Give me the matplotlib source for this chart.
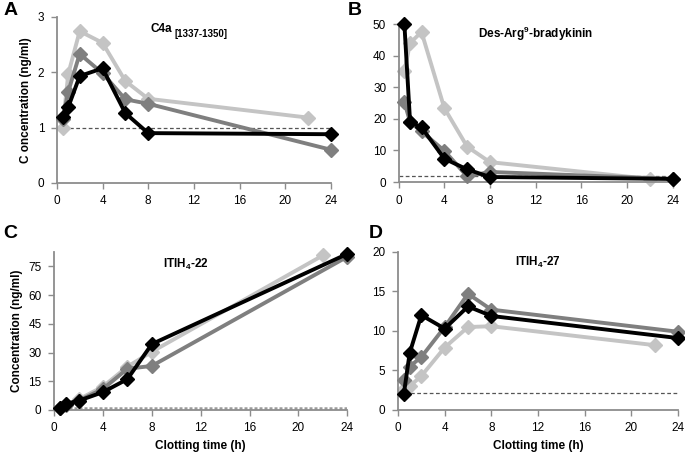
import matplotlib
matplotlib.use("Agg")
import matplotlib.pyplot as plt

plt.rcParams["font.family"] = ["Liberation Sans", "DejaVu Sans"]
plt.rcParams["mathtext.fontset"] = "custom"
plt.rcParams["mathtext.rm"] = "Liberation Sans:bold"
plt.rcParams["mathtext.bf"] = "Liberation Sans:bold"
plt.rcParams["mathtext.it"] = "Liberation Sans:bold"

# clotting times (h); the light series ends at 22 h, the others at 24 h
t_light = [0.5, 1, 2, 4, 6, 8, 22]
t_other = [0.5, 1, 2, 4, 6, 8, 24]

# A: C4a [1337-1350]
a_light = [1.0, 1.97, 2.74, 2.53, 1.84, 1.52, 1.18]
a_dark  = [1.15, 1.65, 2.33, 1.98, 1.51, 1.43, 0.6]
a_black = [1.19, 1.37, 1.93, 2.07, 1.26, 0.9, 0.88]
a_ref = 1.0

# B: Des-Arg9-bradykinin
b_light = [35, 44, 47.5, 23.4, 11.2, 6.3, 1.0]
b_dark  = [25.3, 19, 16, 9.9, 1.8, 3.2, 1.0]
b_black = [50, 19, 17.3, 7.4, 4.0, 1.6, 1.0]
b_ref = 2.0

# C: ITIH4-22
c_light = [1.0, 3.0, 5.5, 12.2, 22.6, 30.4, 80.7]
c_dark  = [0.8, 2.5, 4.8, 11.0, 21.5, 23.0, 80.0]
c_black = [1.0, 3.2, 4.8, 9.3, 16.1, 34.4, 81.5]
c_ref = 0.8

# D: ITIH4-27
d_light = [2.7, 3.0, 4.3, 7.9, 10.5, 10.6, 8.2]
d_dark  = [3.8, 5.5, 6.7, 10.5, 14.7, 12.7, 9.9]
d_black = [2.0, 7.2, 12.0, 10.3, 13.1, 11.9, 9.1]
d_ref = 2.2

xticks = [0, 4, 8, 12, 16, 20, 24]

fig = plt.figure(figsize=(6.85, 4.54), dpi=100)
ax_a = fig.add_axes([0.083, 0.597, 0.400, 0.366])
ax_b = fig.add_axes([0.582, 0.599, 0.400, 0.348])
ax_c = fig.add_axes([0.079, 0.097, 0.428, 0.348])
ax_d = fig.add_axes([0.581, 0.097, 0.409, 0.348])

panels = [
  (ax_a, a_light, a_dark, a_black, a_ref, (0, 3), [0, 1, 2, 3],
   "C4a", 0.34, 0.96, "left"),
  (ax_b, b_light, b_dark, b_black, b_ref, (0, 50), [0, 10, 20, 30, 40, 50],
   r"Des-Arg$^{\mathbf{9}}$-bradykinin", 0.5, 0.995, "center"),
  (ax_c, c_light, c_dark, c_black, c_ref, (0, 82.5), [0, 15, 30, 45, 60, 75],
   r"ITIH$_{\mathbf{4}}$-22", 0.45, 0.97, "center"),
  (ax_d, d_light, d_dark, d_black, d_ref, (0, 20), [0, 5, 10, 15, 20],
   r"ITIH$_{\mathbf{4}}$-27", 0.5, 0.98, "center"),
]

for ax, light, dark, black, ref, ylim, yticks, title, tx, ty, ha in panels:
  if ax is ax_c:
    ax.axhline(ref, color="#9a9a9a", lw=1.8, ls=(0, (1.2, 0.8)), zorder=1)
  else:
    ax.axhline(ref, color="#555555", lw=0.9, ls=(0, (3, 2)), zorder=1)
  ax.plot(t_light, light, color="#c4c4c4", lw=2.8, marker="D", ms=7.5, zorder=2, clip_on=False)
  ax.plot(t_other, dark, color="#7f7f7f", lw=2.8, marker="D", ms=7.5, zorder=3, clip_on=False)
  ax.plot(t_other, black, color="black", lw=2.8, marker="D", ms=7.5, zorder=4, clip_on=False)
  ax.set_xlim(0, 24)
  ax.set_ylim(*ylim)
  ax.set_xticks(xticks)
  ax.set_yticks(yticks)
  for s in ["top", "right"]:
    ax.spines[s].set_visible(False)
  for s in ["left", "bottom"]:
    ax.spines[s].set_color("#8c8c8c")
    ax.spines[s].set_linewidth(1.3)
  ax.tick_params(direction="out", length=4, width=1, color="#8c8c8c", labelsize=8.5, pad=5)
  ax.text(tx, ty, title, transform=ax.transAxes, ha=ha, va="top",
          fontsize=8.5, fontweight="bold")

# subscript of the C4a title, drawn a little lower and smaller
ax_a.text(0.43, 0.925, "[1337-1350]", transform=ax_a.transAxes, ha="left", va="top",
          fontsize=7, fontweight="bold")

fig.text(0.005, 0.995, "A", fontsize=14, fontweight="bold", va="top")
fig.text(0.508, 0.995, "B", fontsize=14, fontweight="bold", va="top")
fig.text(0.005, 0.505, "C", fontsize=14, fontweight="bold", va="top")
fig.text(0.538, 0.505, "D", fontsize=14, fontweight="bold", va="top")

ax_a.set_ylabel("C oncentration (ng/ml)", fontsize=8.5, fontweight="bold")
ax_c.set_ylabel("Concentration (ng/ml)", fontsize=8.5, fontweight="bold")
ax_c.set_xlabel("Clotting time (h)", fontsize=8.5, fontweight="bold")
ax_d.set_xlabel("Clotting time (h)", fontsize=8.5, fontweight="bold")

fig.savefig("out.png", dpi=100)
